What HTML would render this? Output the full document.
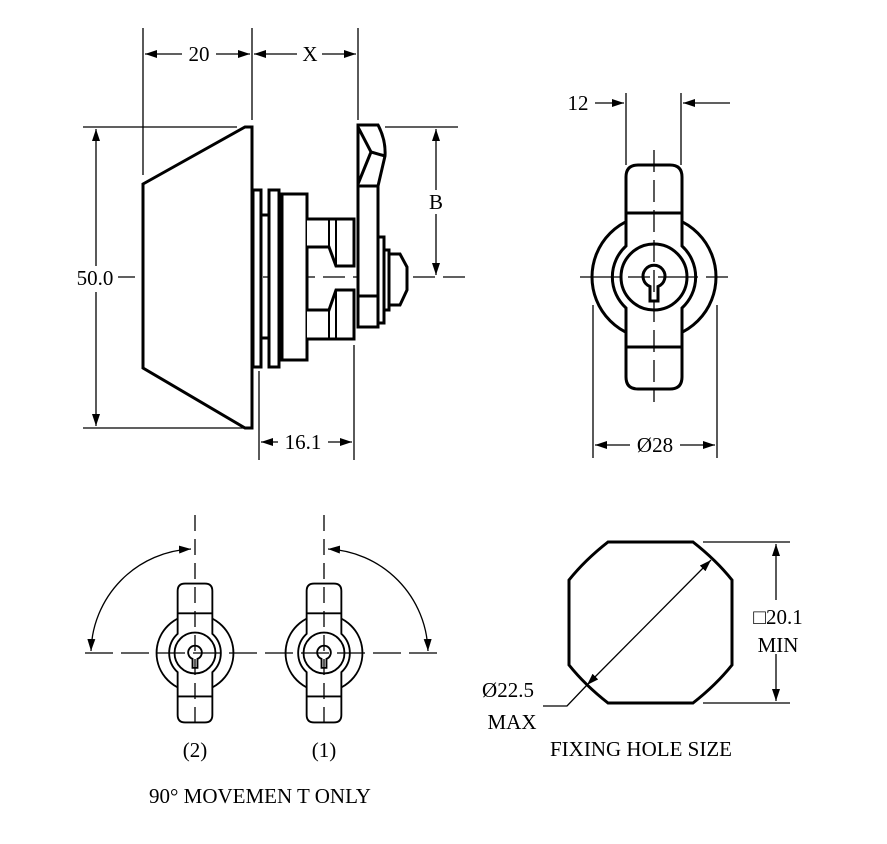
<!DOCTYPE html>
<html><head><meta charset="utf-8"><style>
html,body{margin:0;padding:0;background:#fff;}
svg{display:block;}
text{font-family:"Liberation Serif",serif;font-size:21px;fill:#000;}
</style></head><body>
<svg width="887" height="844" viewBox="0 0 887 844" xmlns="http://www.w3.org/2000/svg">
<defs>
<marker id="a" viewBox="0 0 12 8" refX="12" refY="4" markerWidth="12" markerHeight="8" markerUnits="userSpaceOnUse" orient="auto-start-reverse"><path d="M0,0 L12,4 L0,8 Z" fill="#000"/></marker>
<g id="lock">
<circle cx="0" cy="0" r="62" fill="#fff" stroke="#000" stroke-width="3"/>
<path d="M-28,-31 L-28,-100 Q-28,-112 -16,-112 L16,-112 Q28,-112 28,-100 L28,-31 A42,42 0 0 1 28,31 L28,100 Q28,112 16,112 L-16,112 Q-28,112 -28,100 L-28,31 A42,42 0 0 1 -28,-31 Z" fill="#fff" stroke="#000" stroke-width="3"/>
<line x1="-28" y1="-64" x2="28" y2="-64" stroke="#000" stroke-width="3"/>
<line x1="-28" y1="70" x2="28" y2="70" stroke="#000" stroke-width="3"/>
<circle cx="0" cy="0" r="33" fill="#fff" stroke="#000" stroke-width="3"/>
<path d="M-4,9.5 A11,11 0 1 1 4,9.5 L4,24 L-4,24 Z" fill="#fff" stroke="#000" stroke-width="3"/>
</g>
</defs>
<g fill="none" stroke="#000" stroke-width="1.3">
<line x1="143" y1="28" x2="143" y2="175"/>
<line x1="252" y1="28" x2="252" y2="120"/>
<line x1="358" y1="28" x2="358" y2="120"/>
<line x1="145" y1="54" x2="182" y2="54" marker-start="url(#a)"/>
<line x1="216" y1="54" x2="250" y2="54" marker-end="url(#a)"/>
<line x1="254" y1="54" x2="297" y2="54" marker-start="url(#a)"/>
<line x1="322" y1="54" x2="356" y2="54" marker-end="url(#a)"/>
<line x1="83" y1="127" x2="237" y2="127"/>
<line x1="83" y1="428" x2="245" y2="428"/>
<line x1="96" y1="129" x2="96" y2="266" marker-start="url(#a)"/>
<line x1="96" y1="292" x2="96" y2="426" marker-end="url(#a)"/>
<line x1="385" y1="127" x2="458" y2="127"/>
<line x1="436" y1="129" x2="436" y2="190" marker-start="url(#a)"/>
<line x1="436" y1="214" x2="436" y2="275" marker-end="url(#a)"/>
<line x1="259" y1="371" x2="259" y2="460"/>
<line x1="354" y1="345" x2="354" y2="460"/>
<line x1="261" y1="442" x2="278" y2="442" marker-start="url(#a)"/>
<line x1="328" y1="442" x2="352" y2="442" marker-end="url(#a)"/>
<line x1="113" y1="277" x2="465" y2="277" stroke-dasharray="22,8"/>
<line x1="626" y1="93" x2="626" y2="165"/>
<line x1="681" y1="93" x2="681" y2="165"/>
<line x1="595" y1="103" x2="624" y2="103" marker-end="url(#a)"/>
<line x1="730" y1="103" x2="683" y2="103" marker-end="url(#a)"/>
<line x1="593" y1="305" x2="593" y2="458"/>
<line x1="717" y1="305" x2="717" y2="458"/>
<line x1="595" y1="445" x2="630" y2="445" marker-start="url(#a)"/>
<line x1="680" y1="445" x2="715" y2="445" marker-end="url(#a)"/>
</g>
<g fill="#fff" stroke="#000" stroke-width="3" stroke-linejoin="miter">
<path d="M143,184 L245,127 L252,127 L252,428 L245,428 L143,368 Z"/>
<rect x="253" y="190" width="8" height="177"/>
<rect x="269" y="190" width="10" height="177"/>
<line x1="261" y1="215" x2="269" y2="215"/>
<line x1="261" y1="338" x2="269" y2="338"/>
<line x1="279" y1="219" x2="282" y2="219"/>
<line x1="279" y1="338" x2="282" y2="338"/>
<rect x="282" y="194" width="25" height="166"/>
<path d="M307,219 L354,219 L354,266 L336,266 L329,247 L307,247"/>
<path d="M307,339 L354,339 L354,290 L336,290 L329,310 L307,310"/>
<line x1="329" y1="219" x2="329" y2="247" stroke-width="2"/>
<line x1="336" y1="219" x2="336" y2="266" stroke-width="2"/>
<line x1="329" y1="310" x2="329" y2="339" stroke-width="2"/>
<line x1="336" y1="290" x2="336" y2="339" stroke-width="2"/>
<rect x="378" y="237" width="6" height="86"/>
<rect x="384" y="250" width="5" height="60"/>
<path d="M389,254 L400,254 L407,267 L407,290 L400,305 L389,305 Z"/>
<path d="M358,125 L378,125 Q386,140 385,156 L378,186 L378,327 L358,327 Z"/>
<path d="M358,127 L371,152 L385,156 M371,152 L358,184" fill="none"/>
<line x1="358" y1="186" x2="378" y2="186"/>
<line x1="358" y1="296" x2="378" y2="296"/>
</g>
<use href="#lock" transform="translate(654,277)"/>
<g fill="none" stroke="#000" stroke-width="1.3">
<line x1="654" y1="150" x2="654" y2="402" stroke-dasharray="22,8"/>
<line x1="580" y1="277" x2="730" y2="277" stroke-dasharray="40,8,22,8"/>
</g>
<use href="#lock" transform="translate(195,653) scale(0.62)"/>
<use href="#lock" transform="translate(324,653) scale(0.62)"/>
<g fill="none" stroke="#000" stroke-width="1.3">
<line x1="195" y1="515" x2="195" y2="728" stroke-dasharray="16,8"/>
<line x1="324" y1="515" x2="324" y2="728" stroke-dasharray="16,8"/>
<line x1="85" y1="653" x2="445" y2="653" stroke-dasharray="28,8"/>
<path d="M191,549 A105,105 0 0 0 91,651" marker-start="url(#a)" marker-end="url(#a)"/>
<path d="M328,549 A105,105 0 0 1 428,651" marker-start="url(#a)" marker-end="url(#a)"/>
<path d="M608,542 L693,542 Q716,560 732,580 L732,665 Q716,685 693,703 L608,703 Q585,685 569,665 L569,580 Q585,560 608,542 Z" stroke-width="3"/>
<line x1="711" y1="560" x2="587" y2="685" marker-start="url(#a)" marker-end="url(#a)"/>
<path d="M587,685 L567,706 L543,706"/>
<line x1="703" y1="542" x2="790" y2="542"/>
<line x1="703" y1="703" x2="790" y2="703"/>
<line x1="776" y1="544" x2="776" y2="600" marker-start="url(#a)"/>
<line x1="776" y1="654" x2="776" y2="701" marker-end="url(#a)"/>
</g>
<rect x="72" y="266" width="46" height="24" fill="#fff"/>
<text x="95" y="285" text-anchor="middle">50.0</text>
<text x="199" y="61" text-anchor="middle">20</text>
<text x="310" y="61" text-anchor="middle">X</text>
<text x="436" y="209" text-anchor="middle">B</text>
<text x="303" y="449" text-anchor="middle">16.1</text>
<text x="578" y="110" text-anchor="middle">12</text>
<text x="655" y="452" text-anchor="middle">Ø28</text>
<text x="195" y="757" text-anchor="middle">(2)</text>
<text x="324" y="757" text-anchor="middle">(1)</text>
<text x="260" y="803" text-anchor="middle">90° MOVEMEN T ONLY</text>
<text x="508" y="697" text-anchor="middle">Ø22.5</text>
<text x="512" y="729" text-anchor="middle">MAX</text>
<text x="778" y="624" text-anchor="middle">□20.1</text>
<text x="778" y="652" text-anchor="middle">MIN</text>
<text x="641" y="756" text-anchor="middle">FIXING HOLE SIZE</text>
</svg>
</body></html>
